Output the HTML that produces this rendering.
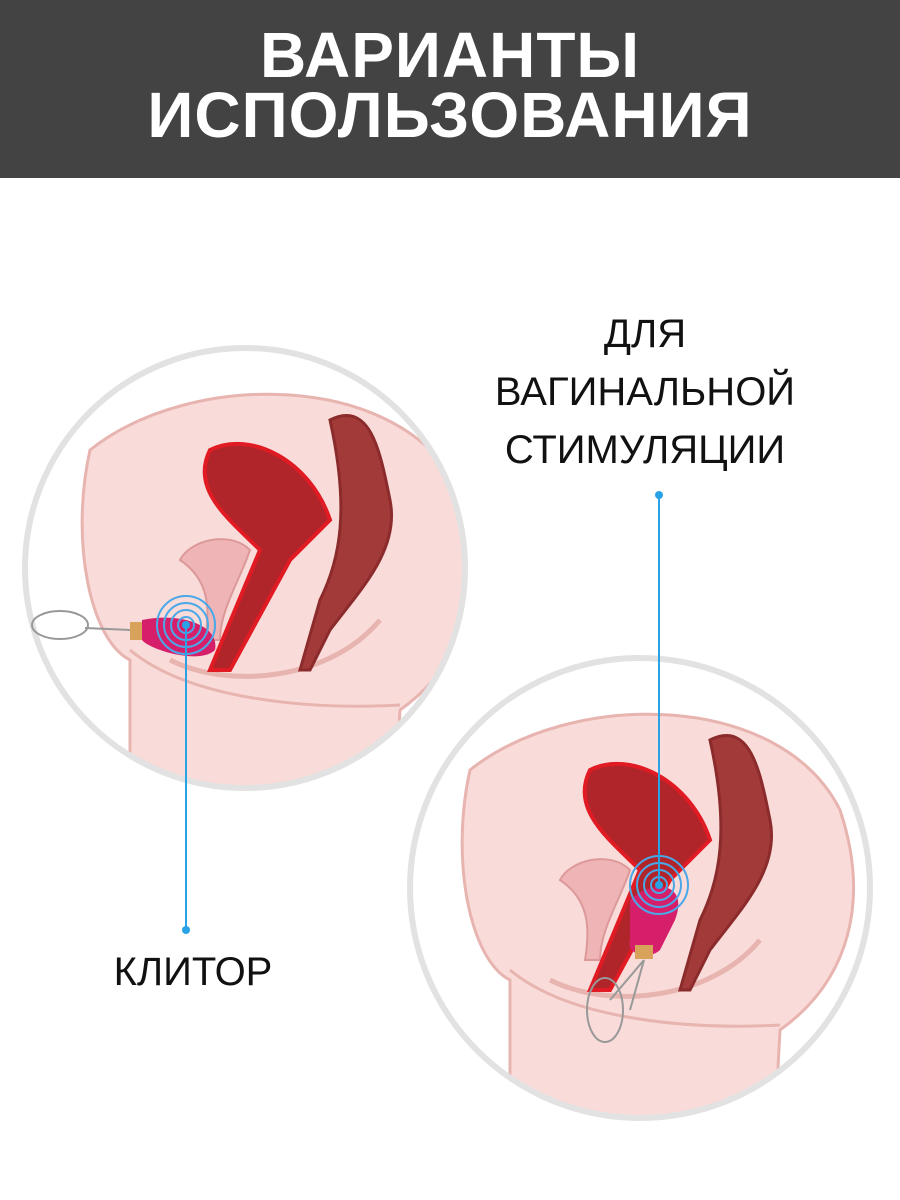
<!DOCTYPE html>
<html><head><meta charset="utf-8"><style>
html,body{margin:0;padding:0;background:#fff;}
.wrap{position:relative;width:900px;height:1200px;overflow:hidden;font-family:"Liberation Sans","DejaVu Sans",sans-serif;}
.hdr{position:absolute;left:0;top:0;width:900px;height:178px;background:#434343;}
.t{position:absolute;width:900px;text-align:center;color:#fff;font-weight:bold;font-size:64px;letter-spacing:1px;}
.lab{position:absolute;color:#111;font-size:40px;text-align:center;}
</style></head><body><div class="wrap">
<div class="hdr"></div>
<div class="t" style="top:18px">ВАРИАНТЫ</div>
<div class="t" style="top:78px">ИСПОЛЬЗОВАНИЯ</div>
<svg width="900" height="1200" style="position:absolute;left:0;top:0">
<defs>
<clipPath id="c1"><circle cx="245" cy="568" r="220"/></clipPath>
<clipPath id="c2"><circle cx="640" cy="888" r="230"/></clipPath>
<g id="body">
<path d="M-160,-150 C-60,-230 150,-230 210,-110 C240,-20 220,60 150,110 L140,300 L-120,300 L-120,60 C-160,40 -180,-60 -160,-150Z" fill="#f9dcd9" stroke="#e7b4b0" stroke-width="3"/>
<path d="M-120,50 C-60,100 60,110 150,105" fill="none" stroke="#e7b4b0" stroke-width="3"/>
<path d="M-80,60 C-20,90 80,80 130,20" fill="none" stroke="#e7b4b0" stroke-width="5"/>
<path d="M-70,-40 C-60,-60 -20,-70 0,-50 C-10,-20 -30,10 -30,40 L-45,40 C-40,10 -40,-20 -70,-40Z" fill="#efb4b6" stroke="#d99" stroke-width="2"/>
<path d="M-40,-150 C0,-170 60,-140 80,-80 L40,-40 L-20,70 L-40,70 L10,-50 C-20,-80 -60,-110 -40,-150Z" fill="#b0252a" stroke="#e01b24" stroke-width="4"/>
<path d="M80,-180 C120,-200 130,-150 140,-100 C150,-50 110,-10 80,30 L60,70 L50,70 L70,0 C90,-40 100,-90 80,-180Z" fill="#a23a3a" stroke="#8b2b2b" stroke-width="3"/>
</g>
</defs>
<g clip-path="url(#c1)" transform="translate(0,0)">
<rect x="20" y="340" width="450" height="450" fill="#fff"/>
<use href="#body" transform="translate(250,600)"/>
</g>
<circle cx="245" cy="568" r="220" fill="none" stroke="#e2e2e2" stroke-width="6"/>
<g clip-path="url(#c2)">
<rect x="400" y="650" width="480" height="480" fill="#fff"/>
<use href="#body" transform="translate(630,920)"/>
</g>
<circle cx="640" cy="888" r="230" fill="none" stroke="#e2e2e2" stroke-width="6"/>
<!-- device 1 -->
<ellipse cx="60" cy="625" rx="28" ry="14" fill="none" stroke="#999" stroke-width="2"/>
<path d="M85,628 L130,630" stroke="#999" stroke-width="2"/>
<rect x="130" y="622" width="14" height="18" fill="#d9a25a"/>
<path d="M142,620 C180,612 220,625 215,650 C200,665 150,650 142,640Z" fill="#d61f6a"/>
<g fill="none" stroke="#4aa8e8" stroke-width="2"><circle cx="186" cy="625" r="8"/><circle cx="186" cy="625" r="15"/><circle cx="186" cy="625" r="22"/><circle cx="186" cy="625" r="29"/></g>
<!-- device 2 -->
<path d="M630,900 C650,880 690,880 675,920 L660,950 C650,960 625,955 630,940Z" fill="#d61f6a"/>
<rect x="635" y="945" width="18" height="14" fill="#d9a25a"/>
<path d="M644,960 L630,1010 M644,960 L610,1000" stroke="#999" stroke-width="2" fill="none"/>
<ellipse cx="605" cy="1010" rx="18" ry="32" fill="none" stroke="#999" stroke-width="2"/>
<g fill="none" stroke="#4aa8e8" stroke-width="2"><circle cx="659" cy="885" r="8"/><circle cx="659" cy="885" r="15"/><circle cx="659" cy="885" r="22"/><circle cx="659" cy="885" r="29"/></g>
<!-- leaders -->
<line x1="186" y1="625" x2="186" y2="930" stroke="#29a3e6" stroke-width="2"/>
<circle cx="186" cy="930" r="4" fill="#29a3e6"/>
<line x1="659" y1="495" x2="659" y2="885" stroke="#29a3e6" stroke-width="2"/>
<circle cx="659" cy="495" r="4" fill="#29a3e6"/>
<circle cx="186" cy="625" r="4" fill="#29a3e6"/>
<circle cx="659" cy="885" r="4" fill="#29a3e6"/>
</svg>
<div class="lab" style="left:445px;width:400px;top:312px">ДЛЯ</div>
<div class="lab" style="left:445px;width:400px;top:370px">ВАГИНАЛЬНОЙ</div>
<div class="lab" style="left:445px;width:400px;top:428px">СТИМУЛЯЦИИ</div>
<div class="lab" style="left:43px;width:300px;top:950px">КЛИТОР</div>
</div></body></html>
